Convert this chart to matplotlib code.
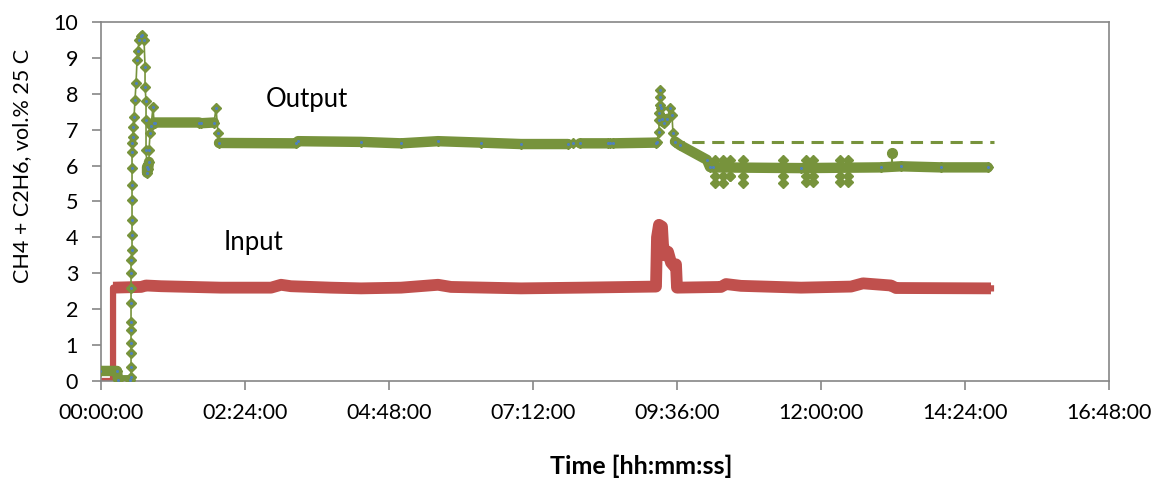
import numpy as np
import matplotlib.pyplot as plt
from matplotlib.ticker import FuncFormatter, MultipleLocator

plt.rcParams['font.family'] = ['Lato', 'DejaVu Sans']

# tiempo en minutos desde el inicio, concentracion en vol.%
# salida (Output): puntos, dense=1 -> tramo con muchos puntos (banda gruesa)
out_t = [-1, 16, 17, 29,
         30, 30, 30, 30, 30, 30, 30, 30, 30, 30, 31, 31, 31, 31, 31, 31, 31, 31, 32, 32,
         33, 34, 35, 36, 37, 38, 40, 41, 43, 44, 44, 45, 45, 45, 46, 46, 47, 48, 48, 49,
         50, 52, 53, 54, 98, 100, 113, 115, 117, 118, 195, 197, 260, 300, 337, 380, 420,
         467, 472, 479, 507, 509, 512, 555,
         556, 558, 558, 558, 559, 559, 559, 560, 561, 563, 566, 569, 571, 572, 574,
         579, 606, 609, 612, 700, 780, 800, 840, 887]
out_v = [0.28, 0.28, 0.02, 0.02,
         0.12, 0.4, 0.77, 1.05, 1.42, 1.65, 2.16, 2.6, 3.0, 3.37, 3.65, 4.07, 4.48, 5.04, 5.46, 5.93, 6.39, 6.62, 6.8, 7.08,
         7.36, 7.84, 8.3, 8.94, 9.2, 9.5, 9.6, 9.64, 9.5, 8.75, 8.2, 7.8, 7.27, 6.43, 5.96, 5.8, 5.9, 6.1, 6.43, 6.9,
         7.1, 7.63, 7.2, 7.2, 7.2, 7.18, 7.2, 7.6, 6.9, 6.63, 6.62, 6.68, 6.66, 6.62, 6.68, 6.64, 6.6,
         6.6, 6.63, 6.62, 6.62, 6.64, 6.62, 6.64,
         6.67, 6.94, 7.27, 7.46, 7.69, 7.92, 8.1, 7.6, 7.3, 7.2, 7.3, 7.6, 7.4, 6.9, 6.67,
         6.57, 6.16, 5.96, 5.95, 5.93, 5.95, 5.98, 5.95, 5.95]
out_dense = [1, 1, 1, 1,
             0, 0, 0, 0, 0, 0, 0, 0, 0, 0, 0, 0, 0, 0, 0, 0, 0, 0, 0, 0,
             0, 0, 0, 0, 0, 0, 0, 0, 0, 0, 0, 0, 0, 0, 1, 1, 1, 1, 0, 0,
             0, 0, 1, 1, 1, 1, 1, 0, 0, 1, 1, 1, 1, 1, 1, 1, 1,
             1, 0, 1, 1, 0, 1, 1,
             0, 0, 0, 0, 0, 0, 0, 0, 1, 1, 1, 0, 0, 0, 1,
             1, 1, 1, 1, 1, 1, 1, 1, 1]

# puntos aislados que saltan arriba/abajo de la linea de ~5.93
spk_t = [614, 622, 629, 642, 682, 705, 712, 739, 747]
spk_hi = [6.16, 6.16, 6.16, 6.16, 6.16, 6.16, 6.16, 6.16, 6.16]
spk_lo = [5.52, 5.52, 5.71, 5.52, 5.52, 5.54, 5.54, 5.54, 5.54]
pico_t, pico_v = 791, 6.35

# valor de referencia (linea discontinua)
ref_t = [571, 893]
ref_v = [6.65, 6.65]

# entrada (Input), dense=0 en el escalon vertical inicial
in_t = [-1, 12, 12, 40, 45, 60, 120, 170, 180, 190, 230, 260, 300, 337, 350, 420, 480, 555,
        556, 558, 561, 562, 564, 567, 570, 573, 575, 576,
        620, 625, 640, 700, 750, 762, 790, 795, 890]
in_v = [0.0, 0.0, 2.6, 2.62, 2.66, 2.64, 2.6, 2.6, 2.68, 2.64, 2.6, 2.58, 2.6, 2.68, 2.62, 2.58, 2.6, 2.63,
        4.0, 4.35, 4.3, 3.8, 3.5, 3.6, 3.3, 3.2, 3.25, 2.6,
        2.62, 2.7, 2.65, 2.6, 2.63, 2.72, 2.66, 2.59, 2.58]
in_dense = [1, 0] + [1] * 35

verde = '#77933C'
rojo = '#C0504D'
gris = '#868686'

fig = plt.figure(figsize=(11.6, 4.79), dpi=100)
ax = fig.add_axes([0.0871, 0.2046, 0.8689, 0.7495])

out_t = np.array(out_t, dtype=float)
out_v = np.array(out_v, dtype=float)
banda = np.where(np.array(out_dense) == 1, out_v, np.nan)
banda_in = np.where(np.array(in_dense) == 1, np.array(in_v, dtype=float), np.nan)

# entrada
ax.plot(in_t, in_v, color=rojo, lw=4.5, solid_joinstyle='round', zorder=2)
ax.plot(in_t, banda_in, color=rojo, lw=8.5, solid_joinstyle='round', solid_capstyle='butt', zorder=2)

# salida
ax.plot(out_t, banda, color=verde, lw=7.5, solid_capstyle='round', solid_joinstyle='round', zorder=3)
ax.plot(out_t, out_v, color=verde, lw=1.2, marker='D', markersize=5, mfc=verde, mec=verde, zorder=4)
ax.plot(out_t, out_v, ls='none', marker='o', markersize=1.2, color='#4F81BD', zorder=5)
ax.vlines(spk_t, spk_lo, spk_hi, color=verde, lw=1.2, zorder=4)
ax.plot(spk_t, spk_hi, ls='none', marker='D', markersize=5, color=verde, zorder=4)
ax.plot(spk_t, spk_lo, ls='none', marker='D', markersize=5, color=verde, zorder=4)
ax.plot(spk_t, [5.71 if lo < 5.6 else lo for lo in spk_lo], ls='none', marker='D', markersize=5, color=verde, zorder=4)
ax.vlines(pico_t, 5.95, pico_v, color=verde, lw=1.5, zorder=4)
ax.plot(pico_t, pico_v, marker='o', markersize=7, color=verde, zorder=4)

ax.plot(ref_t, ref_v, color=verde, lw=2.2, ls=(0, (4, 2.5)), zorder=3)

ax.text(206, 7.85, 'Output', fontsize=18.5, ha='center', va='center')
ax.text(152, 3.87, 'Input', fontsize=18.5, ha='center', va='center')

ax.set_xlim(0, 1008)
ax.set_ylim(0, 10)
ax.xaxis.set_major_locator(MultipleLocator(144))
ax.yaxis.set_major_locator(MultipleLocator(1))
ax.xaxis.set_major_formatter(FuncFormatter(lambda x, p: '%02d:%02d:00' % (int(x) // 60, int(x) % 60)))

for s in ax.spines.values():
    s.set_color(gris)
    s.set_linewidth(1.2)
ax.tick_params(axis='both', colors=gris, labelcolor='black', length=6.5, width=1.2, labelsize=15.5)
ax.tick_params(axis='y', pad=10)
ax.tick_params(axis='x', pad=9)

ax.set_ylabel('CH4 + C2H6, vol.% 25 C', fontsize=15.5)
ax.yaxis.set_label_coords(-0.068, 0.6)
ax.set_xlabel('Time [hh:mm:ss]', fontsize=18, fontweight='bold')
ax.xaxis.set_label_coords(0.536, -0.205)

fig.savefig('out.png', dpi=100)
